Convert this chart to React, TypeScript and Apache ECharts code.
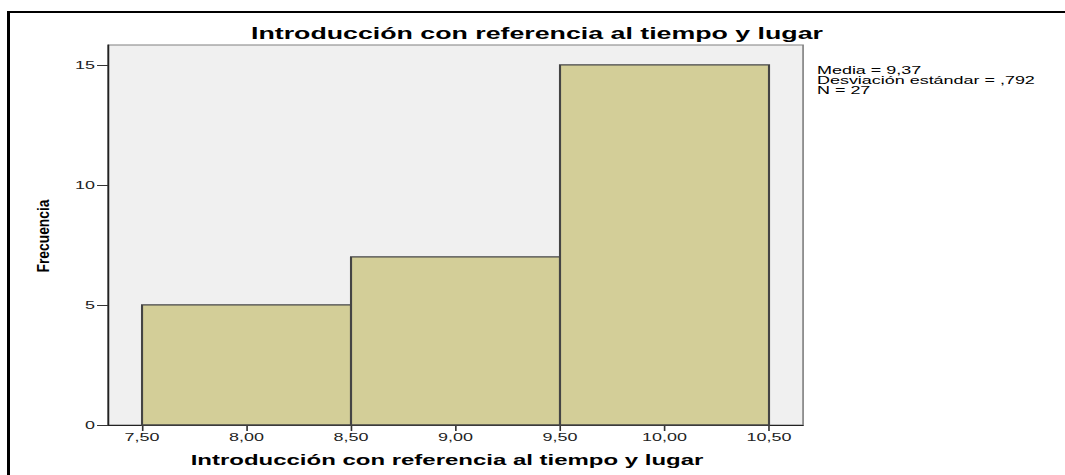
import React, { useEffect, useRef } from "react";
import * as echarts from "echarts";

const titleText = "Introducción con referencia al tiempo y lugar";
const xAxisTitle = "Introducción con referencia al tiempo y lugar";
const yAxisTitle = "Frecuencia";
const binStarts = [7.5, 8.5, 9.5];
const binEnds = [8.5, 9.5, 10.5];
const frequencies = [5, 7, 15];
const xTickValues = [7.5, 8.0, 8.5, 9.0, 9.5, 10.0, 10.5];
const yTickValues = [0, 5, 10, 15];
const statsLines = ["Media = 9,37", "Desviación estándar = ,792", "N = 27"];

const STRETCH = 1065 / 653;
const W = 653;
const H = 475;

export default function App() {
  const ref = useRef<HTMLDivElement>(null);
  useEffect(() => {
    if (!ref.current) return;
    const chart = echarts.init(ref.current, null, { renderer: "svg" });
    const data = binStarts.map((s, i) => [s, binEnds[i], frequencies[i]]);
    const font = "Liberation Sans, Arial, sans-serif";
    chart.setOption({
      animation: false,
      backgroundColor: "#ffffff",
      grid: {
        left: 66.2,
        right: W - 492.4,
        top: 45,
        bottom: 50,
        show: true,
        backgroundColor: "#f0f0f0",
        borderColor: "#808080",
        borderWidth: 1,
      },
      xAxis: {
        type: "value",
        min: 7.337,
        max: 10.663,
        splitLine: { show: false },
        axisLine: { show: true, lineStyle: { color: "#222", width: 1 } },
        axisTick: {
          show: true,
          length: 6,
          customValues: xTickValues,
          lineStyle: { color: "#333", width: 1 },
        },
        axisLabel: {
          customValues: xTickValues,
          margin: 7,
          color: "#222",
          fontFamily: font,
          fontSize: 11,
          formatter: (v: number) => v.toFixed(2).replace(".", ","),
        },
      },
      yAxis: {
        type: "value",
        min: 0,
        max: 15.83,
        splitLine: { show: false },
        axisLine: { show: true, lineStyle: { color: "#222", width: 1 } },
        axisTick: {
          show: true,
          length: 6.7,
          customValues: yTickValues,
          lineStyle: { color: "#333", width: 1 },
        },
        axisLabel: {
          customValues: yTickValues,
          margin: 8,
          color: "#222",
          fontFamily: font,
          fontSize: 11,
          formatter: (v: number) => String(v),
        },
      },
      series: [
        {
          type: "custom",
          data,
          encode: { x: [0, 1], y: 2 },
          renderItem: (params: any, api: any) => {
            const p0 = api.coord([api.value(0), api.value(2)]);
            const p1 = api.coord([api.value(1), 0]);
            return {
              type: "rect",
              shape: { x: p0[0], y: p0[1], width: p1[0] - p0[0], height: p1[1] - p0[1] },
              style: { fill: "#d3ce98", stroke: "#444444", lineWidth: 1.3 },
            };
          },
        },
      ],
      graphic: [
        {
          type: "text",
          x: 537 / STRETCH,
          y: 33,
          style: {
            text: titleText,
            fontFamily: font,
            fontWeight: "bold",
            fontSize: 16.4,
            fill: "#000",
            align: "center",
            verticalAlign: "middle",
          },
        },
        {
          type: "text",
          x: 447 / STRETCH,
          y: 460,
          style: {
            text: xAxisTitle,
            fontFamily: font,
            fontWeight: "bold",
            fontSize: 14.7,
            fill: "#000",
            align: "center",
            verticalAlign: "middle",
          },
        },
        {
          type: "text",
          x: 43 / STRETCH,
          y: 236,
          rotation: Math.PI / 2,
          scaleX: 1.36,
          style: {
            text: yAxisTitle,
            fontFamily: font,
            fontWeight: "bold",
            fontSize: 10.2,
            fill: "#000",
            align: "center",
            verticalAlign: "middle",
          },
        },
        {
          type: "text",
          x: 817 / STRETCH,
          y: 65.5,
          style: {
            text: statsLines.join("\n"),
            fontFamily: font,
            fontSize: 11,
            lineHeight: 10,
            fill: "#000",
            align: "left",
            verticalAlign: "top",
          },
        },
      ],
    });
    return () => chart.dispose();
  }, []);
  return (
    <>
      <div
        ref={ref}
        style={{
          position: "absolute",
          left: 0,
          top: 0,
          width: W + "px",
          height: H + "px",
          overflow: "hidden",
          transform: `scaleX(${STRETCH})`,
          transformOrigin: "0 0",
        }}
      />
      <div
        style={{
          position: "absolute",
          left: 7,
          top: 11,
          width: 1058,
          height: 464,
          boxSizing: "border-box",
          borderTop: "2px solid #000",
          borderLeft: "3px solid #000",
          pointerEvents: "none",
        }}
      />
    </>
  );
}
